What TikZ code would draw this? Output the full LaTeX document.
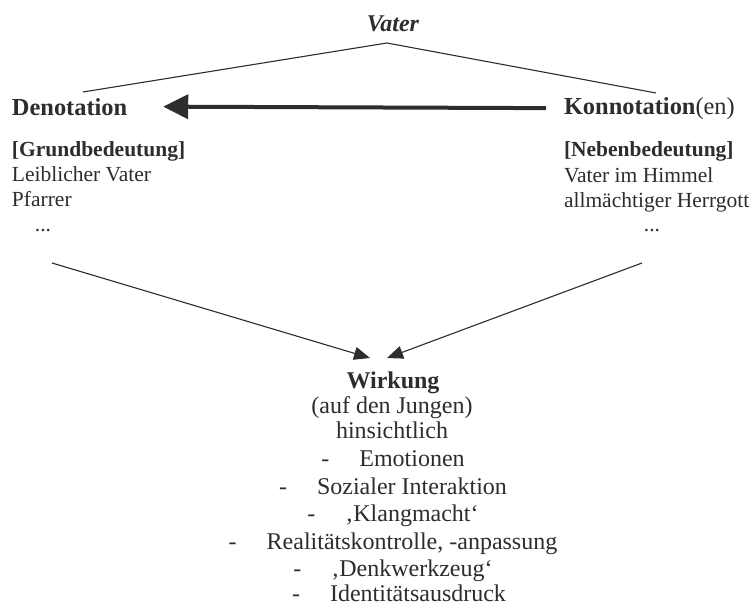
\documentclass[tikz,border=0pt]{standalone}
\usepackage{fontspec}
\setmainfont{Liberation Serif}
\usetikzlibrary{arrows.meta}
\definecolor{ink}{RGB}{45,45,45}
\begin{document}
\begin{tikzpicture}[x=1pt,y=-1pt,
  every node/.style={inner sep=0pt,outer sep=0pt,text=ink},
  head/.style={font=\fontsize{24.4}{28}\selectfont\bfseries,anchor=base west},
  sub/.style={font=\fontsize{21.5}{26}\selectfont,anchor=base west},
  low/.style={font=\fontsize{24}{28}\selectfont,anchor=base},
  thin/.style={draw=ink,line width=1.1pt},
  flow/.style={draw=ink,line width=1.1pt,-{Triangle[length=16pt,width=13pt]}},
  bigflow/.style={draw=ink,line width=4pt,-{Triangle[length=25pt,width=24pt]}}]
\useasboundingbox (0,0) rectangle (756,609);
\fill[white] (0,0) rectangle (756,609);
% top
\node[font=\fontsize{24}{28}\selectfont\bfseries\itshape,anchor=base] (vater) at (393,32) {Vater};
\coordinate (apex) at (387,43);
\coordinate (lend) at (83,92);
\coordinate (rend) at (656,93);
\draw[thin] (lend) -- (apex) -- (rend);
% left column
\node[head] (deno) at (12,116) {Denotation};
\node[sub,font=\fontsize{21.5}{26}\selectfont\bfseries] (grund) at (12,157) {[Grundbedeutung]};
\node[sub] (leib) at (12,182) {Leiblicher Vater};
\node[sub] (pfar) at (12,207) {Pfarrer};
\node[sub,anchor=base] (ldots) at (43,232) {...};
% right column
\node[head] (konno) at (564,115) {Konnotation\mdseries(en)};
\node[sub,font=\fontsize{21.5}{26}\selectfont\bfseries] (neben) at (564,157) {[Nebenbedeutung]};
\node[sub] (himmel) at (564,183) {Vater im Himmel};
\node[sub] (herr) at (564,208) {allmächtiger Herrgott};
\node[sub,anchor=base] (rdots) at (652,232) {...};
% thick arrow
\draw[bigflow] ([xshift=-18pt,yshift=1pt]konno.west) -- ([xshift=36pt,yshift=1pt]deno.east);
% effect
\coordinate (lstart) at (52,263);
\coordinate (rstart) at (642,263);
\coordinate (ltip) at (370,358);
\coordinate (rtip) at (387,358);
\draw[flow] (lstart) -- (ltip);
\draw[flow] (rstart) -- (rtip);
\node[low,font=\fontsize{24}{28}\selectfont\bfseries] (wirk) at (393,389) {Wirkung};
\node[low] (auf) at (392,414) {(auf den Jungen)};
\node[low] (hins) at (392,439) {hinsichtlich};
\node[low] (l1) at (393,467) {-\hspace{30pt}Emotionen};
\node[low] (l2) at (393,495) {-\hspace{30pt}Sozialer Interaktion};
\node[low] (l3) at (393,522) {-\hspace{30pt}‚Klangmacht‘};
\node[low] (l4) at (393,550) {-\hspace{30pt}Realitätskontrolle, -anpassung};
\node[low] (l5) at (393,577) {-\hspace{30pt}‚Denkwerkzeug‘};
\node[low] (l6) at (399,602) {-\hspace{30pt}Identitätsausdruck};
\end{tikzpicture}
\end{document}
